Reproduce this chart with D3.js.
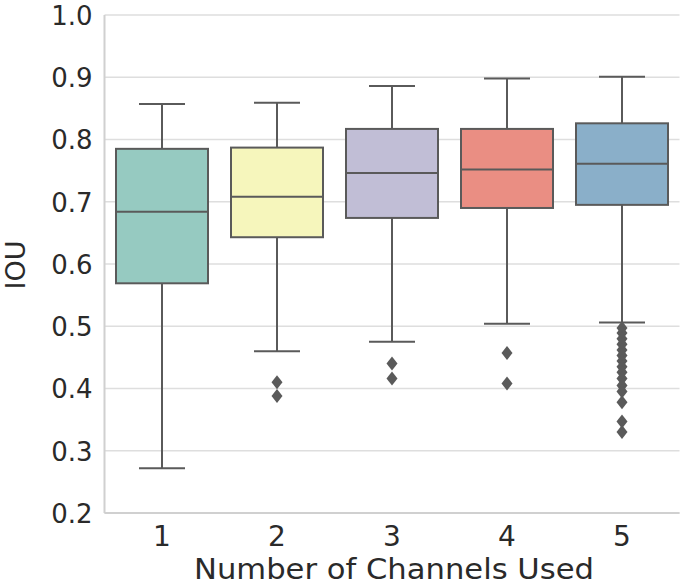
<!DOCTYPE html>
<html>
<head>
<meta charset="utf-8">
<script src="https://cdn.jsdelivr.net/npm/d3@7"></script>
<style>
  html, body { margin: 0; padding: 0; background: #fff; }
  svg { display: block; font-family: "DejaVu Sans", sans-serif; }
</style>
</head>
<body>
<svg id="chart" width="685" height="586"></svg>
<script>
const categories = ["1", "2", "3", "4", "5"];
const whiskerLow = [0.272, 0.460, 0.475, 0.504, 0.506];
const q1 = [0.569, 0.643, 0.674, 0.690, 0.695];
const median = [0.684, 0.708, 0.746, 0.752, 0.761];
const q3 = [0.785, 0.787, 0.817, 0.817, 0.826];
const whiskerHigh = [0.857, 0.859, 0.886, 0.898, 0.901];
const outliers = [
  [],
  [0.410, 0.388],
  [0.440, 0.416],
  [0.457, 0.408],
  [0.497, 0.489, 0.480, 0.471, 0.462, 0.453, 0.444, 0.435, 0.426, 0.416, 0.405, 0.395, 0.378, 0.347, 0.330]
];
const yTicks = [0.2, 0.3, 0.4, 0.5, 0.6, 0.7, 0.8, 0.9, 1.0];
const baseColors = ["#8dd3c7", "#ffffb3", "#bebada", "#fb8072", "#80b1d3"];

(function () {
const colors = baseColors.map(c => { const h = d3.hsl(c); h.s *= 0.75; return h.formatHex(); });

const svg = d3.select("#chart");
const pLeft = 104.5, pRight = 679.5, pTop = 15, pBottom = 513;
const x = d3.scaleBand().domain(categories).range([pLeft, pRight]).paddingInner(0).paddingOuter(0);
const y = d3.scaleLinear().domain([0.2, 1.0]).range([pBottom, pTop]);
const lineColor = "#5a5a5a";
const gridColor = "#dedede";

svg.append("g").selectAll("line").data(yTicks).join("line")
  .attr("x1", pLeft).attr("x2", pRight)
  .attr("y1", d => y(d)).attr("y2", d => y(d))
  .attr("stroke", gridColor).attr("stroke-width", 1.5);

svg.append("line").attr("x1", pLeft).attr("x2", pLeft).attr("y1", pTop).attr("y2", pBottom)
  .attr("stroke", "#d0d0d0").attr("stroke-width", 2);
svg.append("line").attr("x1", pLeft).attr("x2", pRight).attr("y1", pBottom).attr("y2", pBottom)
  .attr("stroke", "#d0d0d0").attr("stroke-width", 2);

const yAxis = d3.axisLeft(y).tickValues(yTicks).tickFormat(d3.format(".1f")).tickSize(0).tickPadding(12);
const yg = svg.append("g").attr("transform", `translate(${pLeft},0)`).call(yAxis);
yg.select(".domain").remove();
yg.selectAll("text").attr("font-size", 26).attr("fill", "#2a2a2a")
  .attr("font-family", "DejaVu Sans").attr("dy", "0.36em");

const xAxis = d3.axisBottom(x).tickSize(0).tickPadding(12);
const xg = svg.append("g").attr("transform", `translate(0,${pBottom})`).call(xAxis);
xg.select(".domain").remove();
xg.selectAll("text").attr("font-size", 28).attr("fill", "#2a2a2a")
  .attr("font-family", "DejaVu Sans").attr("dy", "0.75em");

const bw = x.bandwidth() * 0.8;
const g = svg.append("g");
categories.forEach((c, i) => {
  const cx = x(c) + x.bandwidth() / 2;
  g.append("line").attr("x1", cx).attr("x2", cx).attr("y1", y(q3[i])).attr("y2", y(whiskerHigh[i]))
    .attr("stroke", lineColor).attr("stroke-width", 2);
  g.append("line").attr("x1", cx).attr("x2", cx).attr("y1", y(q1[i])).attr("y2", y(whiskerLow[i]))
    .attr("stroke", lineColor).attr("stroke-width", 2);
  [whiskerHigh[i], whiskerLow[i]].forEach(v => {
    g.append("line").attr("x1", cx - bw / 4).attr("x2", cx + bw / 4).attr("y1", y(v)).attr("y2", y(v))
      .attr("stroke", lineColor).attr("stroke-width", 2);
  });
  g.append("rect").attr("x", cx - bw / 2).attr("width", bw)
    .attr("y", y(q3[i])).attr("height", y(q1[i]) - y(q3[i]))
    .attr("fill", colors[i]).attr("stroke", lineColor).attr("stroke-width", 2);
  g.append("line").attr("x1", cx - bw / 2).attr("x2", cx + bw / 2).attr("y1", y(median[i])).attr("y2", y(median[i]))
    .attr("stroke", lineColor).attr("stroke-width", 2);
  g.append("g").selectAll("path").data(outliers[i]).join("path")
    .attr("d", d => { const yy = y(d); return `M${cx},${yy - 7}L${cx + 5.5},${yy}L${cx},${yy + 7}L${cx - 5.5},${yy}Z`; })
    .attr("fill", lineColor);
});

svg.append("text").attr("x", (pLeft + pRight) / 2 + 2).attr("y", 579)
  .attr("text-anchor", "middle").attr("font-size", 28).attr("fill", "#2a2a2a")
  .attr("textLength", 400).attr("lengthAdjust", "spacingAndGlyphs")
  .text("Number of Channels Used");
svg.append("text").attr("transform", `translate(25,265) rotate(-90)`)
  .attr("text-anchor", "middle").attr("font-size", 27).attr("fill", "#2a2a2a")
  .text("IOU");
})();
</script>
</body>
</html>
